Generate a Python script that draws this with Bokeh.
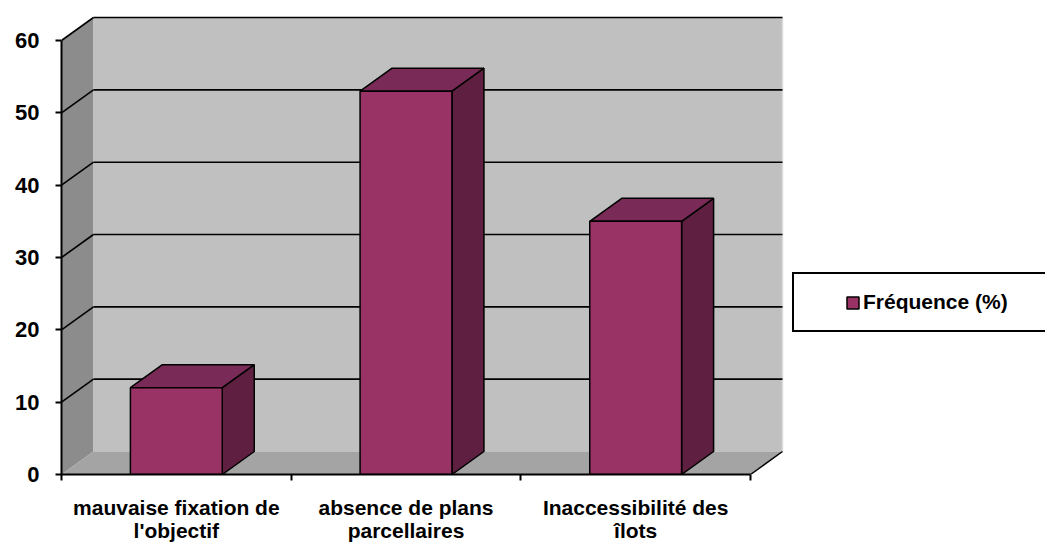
from bokeh.plotting import figure
from bokeh.models import Range1d, FixedTicker, Legend, LegendItem, ColumnDataSource
from bokeh.embed import file_html
from bokeh.resources import INLINE

# ---- data ----
categories = ["mauvaise fixation de\nl'objectif", "absence de plans\nparcellaires", "Inaccessibilité des\nîlots"]
values = [12, 53, 35]
y_ticks = [0, 10, 20, 30, 40, 50, 60]
series_name = "Fréquence (%)"

# ---- style / geometry ----
PX_X = 229.67      # pixels per category
PX_Y = 7.233       # pixels per value unit
DX = 32 / PX_X     # 3D depth offset (x, data units)
DY = 23 / PX_Y     # 3D depth offset (y, data units)
BAR_W = 0.4
N = len(categories)
YMAX = y_ticks[-1]
FRAME_W = 984
FRAME_H = 466
FONT = "Liberation Sans"

FRONT = "#993366"
TOP = "#7a2a56"
SIDE = "#5e1f41"

p = figure(width=1045, height=545,
           x_range=Range1d(0, FRAME_W / PX_X), y_range=Range1d(0, FRAME_H / PX_Y),
           output_backend="svg", toolbar_location=None,
           min_border_left=61, min_border_right=0, min_border_top=8, min_border_bottom=71)
p.outline_line_color = None
p.xgrid.visible = False
p.ygrid.visible = False
p.background_fill_color = "white"

# ---- walls ----
p.patch([0, DX, DX, 0], [0, DY, YMAX + DY, YMAX], fill_color="#8c8c8c", line_color=None)
p.quad(left=[DX], right=[N + DX], bottom=[DY], top=[YMAX + DY], fill_color="#c0c0c0", line_color=None)
p.patch([0, N, N + DX, DX], [0, 0, DY, DY], fill_color="#a4a4a4", line_color=None)
p.segment(x0=[N + DX], y0=[DY], x1=[N + DX], y1=[YMAX + DY], line_color="#dcdcdc", line_width=1.5)
p.segment(x0=[N], y0=[0], x1=[N + DX], y1=[DY], line_color="black", line_width=1.5)

grid_vals = y_ticks[1:]
p.segment(x0=[DX] * len(grid_vals), y0=[v + DY for v in grid_vals],
          x1=[N + DX] * len(grid_vals), y1=[v + DY for v in grid_vals],
          line_color="black", line_width=1.6)
p.segment(x0=[0] * len(grid_vals), y0=grid_vals,
          x1=[DX] * len(grid_vals), y1=[v + DY for v in grid_vals],
          line_color="black", line_width=1.6)

# ---- bars ----
centers = [i + 0.5 for i in range(N)]
lefts = [c - BAR_W / 2 for c in centers]
rights = [c + BAR_W / 2 for c in centers]
src = ColumnDataSource(dict(left=lefts, right=rights, bottom=[0] * N, top=values))

top_xs = [[l, r, r + DX, l + DX] for l, r in zip(lefts, rights)]
top_ys = [[v, v, v + DY, v + DY] for v in values]
side_xs = [[r, r + DX, r + DX, r] for r in rights]
side_ys = [[0, DY, v + DY, v] for v in values]

p.patches(side_xs, side_ys, fill_color=SIDE, line_color="black", line_width=1.5)
p.patches(top_xs, top_ys, fill_color=TOP, line_color="black", line_width=1.5)
front = p.quad(left="left", right="right", bottom="bottom", top="top", source=src,
               fill_color=FRONT, line_color="black", line_width=1.5)

# ---- axes ----
xa = p.xaxis[0]
xa.ticker = FixedTicker(ticks=centers, minor_ticks=list(range(N + 1)))
xa.major_label_overrides = {c: lab for c, lab in zip(centers, categories)}
xa.bounds = (0, N)
xa.major_tick_out = 0
xa.major_tick_in = 0
xa.minor_tick_out = 6
xa.minor_tick_in = 0
xa.minor_tick_line_width = 2
xa.minor_tick_line_color = "black"
xa.axis_line_width = 2
xa.axis_line_color = "black"
xa.major_label_standoff = 15
xa.major_label_text_line_height = 1.0
xa.major_label_text_font = FONT
xa.major_label_text_font_style = "bold"
xa.major_label_text_font_size = "21px"
xa.major_label_text_color = "black"

ya = p.yaxis[0]
ya.ticker = FixedTicker(ticks=y_ticks)
ya.bounds = (0, YMAX)
ya.major_tick_out = 6
ya.major_tick_in = 0
ya.minor_tick_out = 0
ya.minor_tick_in = 0
ya.major_tick_line_width = 2
ya.major_tick_line_color = "black"
ya.axis_line_width = 2
ya.axis_line_color = "black"
ya.major_label_standoff = 16
ya.major_label_text_font = FONT
ya.major_label_text_font_style = "bold"
ya.major_label_text_font_size = "22px"
ya.major_label_text_color = "black"

# ---- legend ----
dummy = p.scatter(x=[], y=[], fill_alpha=0, line_alpha=0)
legend = Legend(items=[LegendItem(label=" ", renderers=[dummy]),
                       LegendItem(label=series_name, renderers=[front]),
                       LegendItem(label=" ", renderers=[dummy])],
                orientation="horizontal", location=(731, 142), padding=16, spacing=0,
                glyph_width=15, glyph_height=15, label_standoff=3, label_width=17,
                border_line_color="black", border_line_width=2, border_line_alpha=1, margin=0,
                label_text_font=FONT, label_text_font_style="bold", label_text_font_size="21px",
                label_text_color="black",
                background_fill_color="white", background_fill_alpha=1)
p.add_layout(legend)

open("out.html", "w").write(file_html(p, INLINE))
